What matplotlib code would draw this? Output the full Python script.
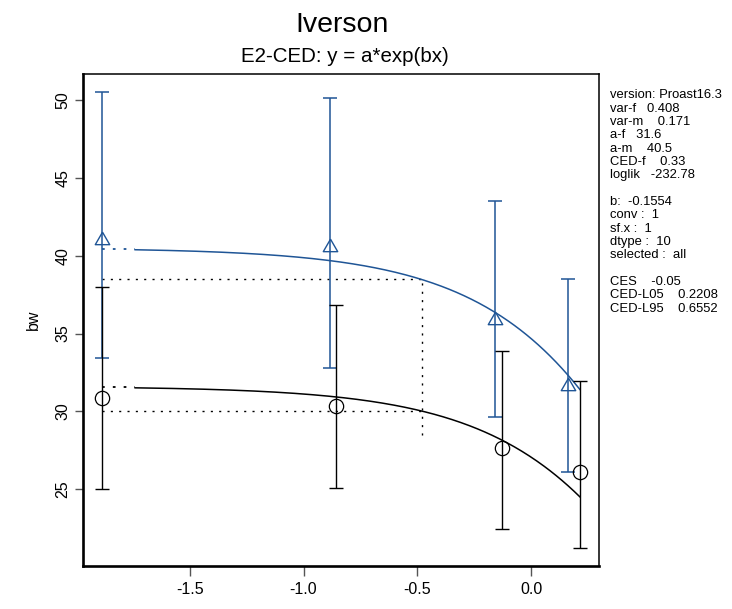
import numpy as np
import matplotlib
matplotlib.use("Agg")
import matplotlib.pyplot as plt

plt.rcParams["font.family"] = ["Liberation Sans", "DejaVu Sans"]

# Fitted model parameters (E2-CED: y = a*exp(b*dose)), x axis is log10(dose)
a_f = 31.6
a_m = 40.5
b = -0.1554
ces = -0.05
ced_f = 0.33

# Subgroup f (black circles): log10 dose, means and confidence limits
x_f = [-1.885, -0.856, -0.128, 0.214]
mean_f = [30.85, 30.36, 27.63, 26.08]
low_f = [25.00, 25.06, 22.45, 21.23]
high_f = [37.98, 36.84, 33.89, 31.93]

# Subgroup m (blue triangles)
x_m = [-1.885, -0.885, -0.157, 0.160]
mean_m = [41.00, 40.55, 35.84, 31.64]
low_m = [33.40, 32.78, 29.65, 26.12]
high_m = [50.51, 50.15, 43.52, 38.49]

# Lower end of the vertical CED marker line
ced_line_bottom = 28.5
# Start of the solid part of the fitted curves (log10 dose)
curve_start = -1.74

info_lines = [
    "version: Proast16.3", "var-f   0.408", "var-m    0.171", "a-f   31.6",
    "a-m    40.5", "CED-f    0.33", "loglik   -232.78", "",
    "b:  -0.1554", "conv :  1", "sf.x :  1", "dtype :  10", "selected :  all", "",
    "CES    -0.05", "CED-L05    0.2208", "CED-L95    0.6552",
]

xticks = [-1.5, -1.0, -0.5, 0.0]
yticks = [25, 30, 35, 40, 45, 50]

BLUE = "#1f5596"
W, H = 732, 609
fig = plt.figure(figsize=(W / 100, H / 100), dpi=100)
ax = fig.add_axes([83 / W, 43 / H, 516 / W, 492 / H])

def model(a, x):
    return a * np.exp(b * 10 ** np.asarray(x))

# data ranges with 4% padding
xall = x_f + x_m
yall = low_f + high_f + low_m + high_m
xr = max(xall) - min(xall)
yr = max(yall) - min(yall)
ax.set_xlim(min(xall) - 0.04 * xr, max(xall) + 0.04 * xr)
ax.set_ylim(min(yall) - 0.04 * yr, max(yall) + 0.04 * yr)

# fitted curves
xc = np.linspace(curve_start, max(xall), 300)
xmin = min(xall)
dots = (0, (1.5, 4.5))
for a, col in ((a_f, "black"), (a_m, BLUE)):
    ax.plot(xc, model(a, xc), color=col, lw=1.1, zorder=3)
    ax.plot([xmin, curve_start], [model(a, xmin), model(a, xmin)],
            color=col, lw=1.3, ls=dots, zorder=3)
    ax.plot([xmin, np.log10(ced_f)], [a * (1 + ces)] * 2,
            color="black", lw=1.0, ls=dots, zorder=2)
ax.plot([np.log10(ced_f)] * 2, [ced_line_bottom, a_m * (1 + ces)],
        color="black", lw=1.0, ls=dots, zorder=2)

# error bars and means
ax.errorbar(x_m, mean_m,
            yerr=[np.subtract(mean_m, low_m), np.subtract(high_m, mean_m)],
            fmt="none", ecolor=BLUE, elinewidth=1.1, capsize=5.2, capthick=1.1,
            zorder=4)
ax.errorbar(x_f, mean_f,
            yerr=[np.subtract(mean_f, low_f), np.subtract(high_f, mean_f)],
            fmt="none", ecolor="black", elinewidth=1.0, capsize=5.2, capthick=1.0,
            zorder=4)
tri = [(0, 1.555), (1.347, -0.778), (-1.347, -0.778), (0, 1.555)]
ax.plot(x_m, mean_m, ls="none", marker=tri, ms=12.0, mfc="none",
        mec=BLUE, mew=1.0, zorder=5)
ax.plot(x_f, mean_f, ls="none", marker="o", ms=10.3, mfc="none",
        mec="black", mew=0.9, zorder=5)

# axes styling
ax.set_xticks(xticks)
ax.set_xticklabels([f"{t:.1f}" for t in xticks])
ax.set_yticks(yticks)
ax.set_yticklabels([str(t) for t in yticks], rotation=90, va="center")
ax.tick_params(axis="both", direction="out", width=1.0,
               color="#555555", labelsize=11.5, labelcolor="black")
ax.tick_params(axis="x", length=7, pad=4.5)
ax.tick_params(axis="y", length=6, pad=3.2)
for side in ("left", "bottom"):
    ax.spines[side].set_linewidth(1.9)
for side in ("top", "right"):
    ax.spines[side].set_linewidth(1.1)
ax.set_ylabel("bw", fontsize=11.5, labelpad=10)

fig.text(342 / W, 1 - 31.7 / H, "Iverson", ha="center", va="baseline",
         fontsize=20.5)
fig.text(345 / W, 1 - 62.5 / H, "E2-CED: y = a*exp(bx)", ha="center",
         va="baseline", fontsize=14.8)

# model summary listed beside the plot
y0 = 98.5
step = 13.33
for i, line in enumerate(info_lines):
    if line:
        fig.text(610 / W, 1 - (y0 + i * step) / H, line, ha="left",
                 va="baseline", fontsize=9.4)

fig.savefig("out.png", dpi=100)
